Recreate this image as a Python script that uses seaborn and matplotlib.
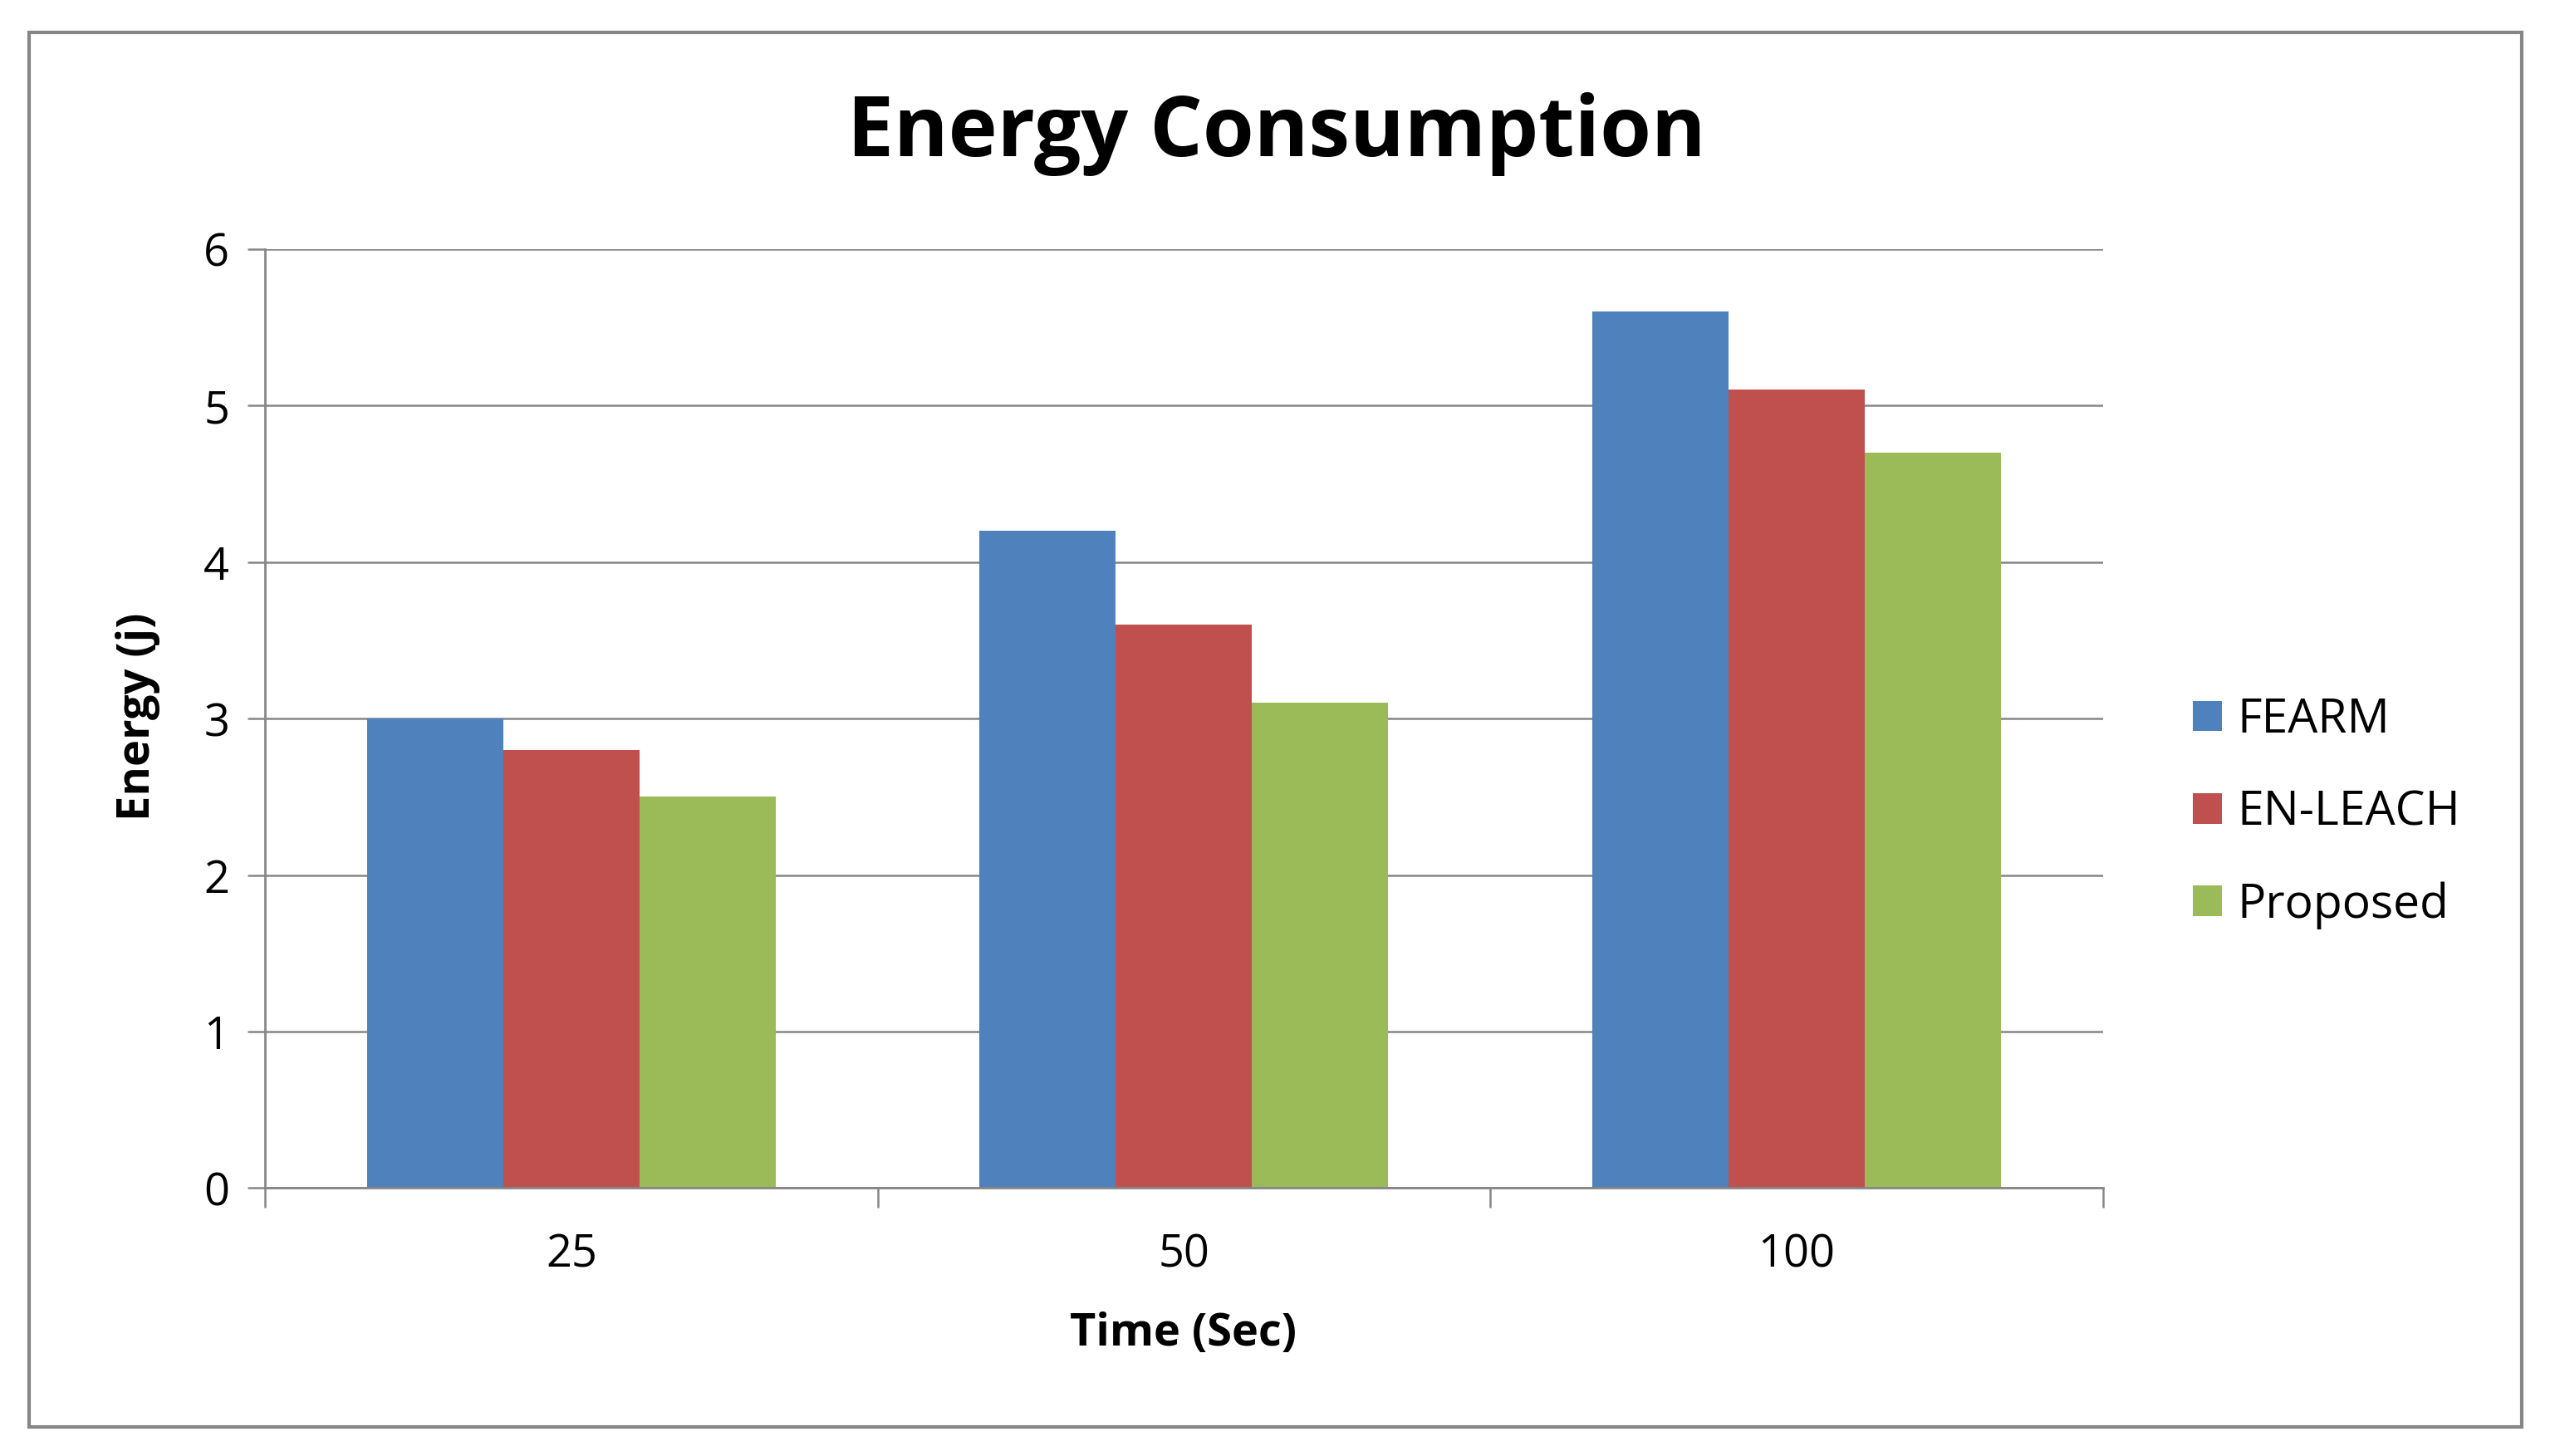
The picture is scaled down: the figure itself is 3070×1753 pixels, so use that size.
import matplotlib
matplotlib.use("Agg")
import matplotlib.pyplot as plt
from matplotlib.patches import Rectangle
from matplotlib.ticker import FixedLocator
import pandas as pd
import seaborn as sns

times = ["25", "50", "100"]
methods = ["FEARM", "EN-LEACH", "Proposed"]
fearm = [3.0, 4.2, 5.6]
en_leach = [2.8, 3.6, 5.1]
proposed = [2.5, 3.1, 4.7]
colors = ["#4F81BD", "#C0504D", "#9BBB59"]

rows = []
for name, vals in zip(methods, [fearm, en_leach, proposed]):
    for t, v in zip(times, vals):
        rows.append({"time": t, "method": name, "energy": v})
data = pd.DataFrame(rows)

sns.set_theme(style="white")
plt.rcParams['font.family'] = ['Open Sans', 'DejaVu Sans']
plt.rcParams['text.color'] = 'black'

fig = plt.figure(figsize=(30.7, 17.53), dpi=100)
ax = fig.add_axes([0.104, 0.184, 0.7206, 0.645])

sns.barplot(data=data, x="time", y="energy", hue="method", order=times,
            hue_order=methods, palette=colors, saturation=1, width=0.667,
            linewidth=0, ax=ax)

ax.set_xlim(-0.5, 2.5)
ax.set_ylim(0, 6)
ax.set_yticks(range(0, 7))
ax.yaxis.grid(True, color="#868686", linewidth=1.8)
ax.set_axisbelow(True)
for s in ["top", "right"]:
    ax.spines[s].set_visible(False)
for s in ["left", "bottom"]:
    ax.spines[s].set_color("#868686")
    ax.spines[s].set_linewidth(2)

ax.tick_params(axis="y", which="major", length=15, width=1.8, color="#868686",
               direction="out", left=True, labelsize=39, pad=16, labelcolor="black")
ax.tick_params(axis="x", which="major", length=0, labelsize=39, pad=38, labelcolor="black")
ax.xaxis.set_minor_locator(FixedLocator([-0.5, 0.5, 1.5, 2.5]))
ax.tick_params(axis="x", which="minor", length=17, width=1.8, color="#868686",
               direction="out", bottom=True)

ax.set_xlabel("")
ax.set_ylabel("")
fig.text(0.464, 0.084, "Time (Sec)", ha="center", va="center",
         fontsize=39, fontweight="bold", color="black")
fig.text(0.054, 0.508, "Energy (j)", ha="center", va="center",
         rotation=90, fontsize=39, fontweight="bold", color="black")
fig.text(0.5006, 0.908, "Energy Consumption", ha="center", va="center",
         fontsize=72, fontweight="bold", color="black")

handles, labels = ax.get_legend_handles_labels()
ax.get_legend().remove()
fig.legend(handles, labels, loc="center left", bbox_to_anchor=(0.8505, 0.4416),
           frameon=False, fontsize=41, handlelength=0.62, handleheight=0.62,
           handletextpad=0.32, labelspacing=0.95, borderpad=0)

fig.patches.append(Rectangle((0.0115, 0.020), 0.9775, 0.958, transform=fig.transFigure,
                             fill=False, edgecolor="#868686", linewidth=3))

fig.savefig("out.png", dpi=100, facecolor="white")
